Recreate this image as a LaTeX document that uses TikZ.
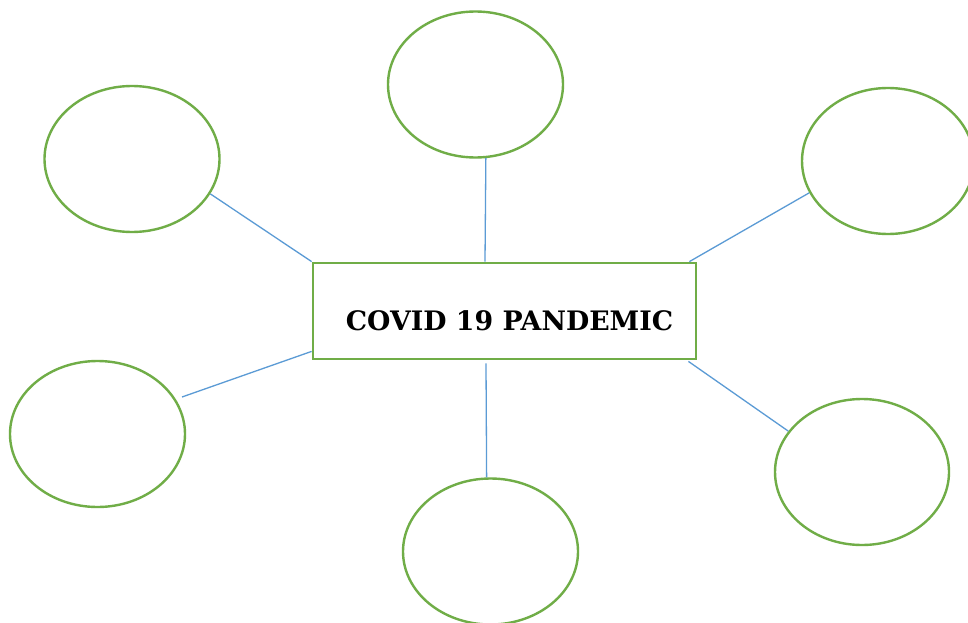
\documentclass[tikz,border=0pt]{standalone}
\usepackage{fontspec}
\newfontfamily\titlefont{DejaVu Serif}
\usetikzlibrary{shapes.geometric,calc}
\definecolor{leafgreen}{RGB}{112,173,71}
\definecolor{linkblue}{RGB}{91,155,213}
\tikzset{
  bubble/.style={ellipse, draw=leafgreen, line width=2.4pt, minimum width=175pt, minimum height=146pt, inner sep=0pt},
  hub/.style={rectangle, draw=leafgreen, line width=2.8pt, minimum width=383pt, minimum height=96pt, inner sep=0pt},
  link/.style={draw=linkblue, line width=1.3pt},
}
\begin{document}
\begin{tikzpicture}[x=1pt, y=-1pt]
  \useasboundingbox (0,0) rectangle (968,623);
  \fill[white] (0,0) rectangle (968,623);

  % central box and its caption
  \node[hub] (box) at (504.5,311) {};
  \node[inner sep=0pt] (title) at (509.5,320.5)
    {\titlefont\bfseries\fontsize{26.8}{30}\selectfont COVID 19 PANDEMIC};

  % surrounding bubbles
  \node[bubble] (top)   at (475.5,84.5) {};
  \node[bubble] (tl)    at (132,159)    {};
  \node[bubble, minimum width=172pt] (tr) at (888,161) {};
  \node[bubble] (left)  at (97.5,434)   {};
  \node[bubble] (bot)   at (490.5,551.5) {};
  \node[bubble, minimum width=174pt] (br) at (862,472) {};

  \coordinate (leftend) at (182,397);

  % spokes
  \draw[link] (top.-82.5) -- ([xshift=-19.5pt]box.north);
  \draw[link] (tl.-24.8) -- (box.north west);
  \draw[link] (tr.202) -- ([xshift=-8pt]box.north east);
  \draw[link] (leftend) -- ([yshift=9pt]box.south west);
  \draw[link] ([xshift=-18.5pt,yshift=-3pt]box.south) -- (bot.93.5);
  \draw[link] ([xshift=-9pt,yshift=-1pt]box.south east) -- (br.151);
\end{tikzpicture}
\end{document}
